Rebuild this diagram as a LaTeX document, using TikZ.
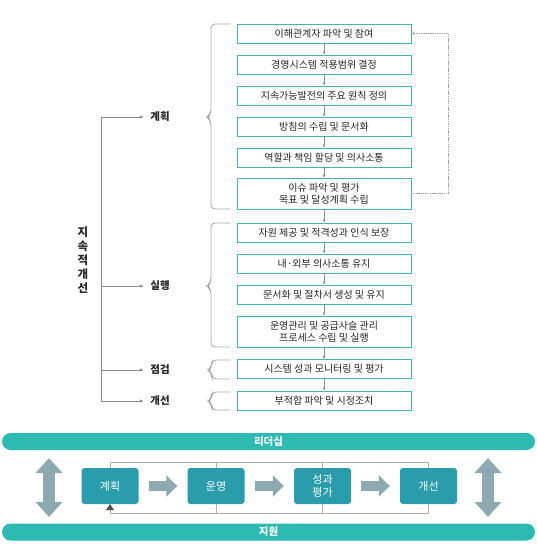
\documentclass[tikz,border=0pt]{standalone}
\usepackage{fontspec}
\setmainfont{Noto Sans CJK KR}
\usetikzlibrary{arrows.meta}
\definecolor{boxline}{HTML}{45B1B9}
\definecolor{barteal}{HTML}{2DBAB3}
\definecolor{stagefill}{HTML}{2A9CAC}
\definecolor{blockgray}{HTML}{8EAAB1}
\definecolor{linegray}{HTML}{8C8C8C}
\tikzset{
  stepbox/.style={draw=boxline, line width=0.9pt, fill=white, minimum width=174pt,
    minimum height=19pt, align=center, inner sep=1pt, text=black!85,
    font=\fontsize{10}{11.5}\selectfont},
  stepflow/.style={draw=linegray, line width=0.5pt, -{Latex[length=3pt,width=3pt]}},
  phase/.style={text=black!85, font=\bfseries\fontsize{10.5}{12}\selectfont},
  treeline/.style={draw=linegray, line width=0.7pt},
  bracket/.style={draw=linegray!80, line width=0.8pt, rounded corners=4pt},
  bar/.style={fill=barteal, rounded corners=8.5pt, minimum width=533pt, minimum height=17pt,
    text=white, font=\bfseries\fontsize{10.5}{11}\selectfont},
  stage/.style={fill=stagefill, rounded corners=3pt, minimum width=57pt, minimum height=36pt,
    text=white, align=center, font=\fontsize{11}{13}\selectfont},
  blockarrow/.style={draw=blockgray, line width=10pt, -{Triangle[length=11pt,width=21pt]}},
  updown/.style={draw=blockgray, line width=12pt, {Triangle[length=15pt,width=26pt]}-{Triangle[length=15pt,width=26pt]}},
  loopline/.style={draw=linegray!70, line width=0.6pt}
}
\begin{document}
\begin{tikzpicture}[x=1pt,y=-1pt]
\useasboundingbox (0,0) rectangle (537,547);

\node[stepbox] (b1) at (324,33.5) {이해관계자 파악 및 참여};
\node[stepbox] (b2) at (324,64.5) {경영시스템 적용범위 결정};
\node[stepbox] (b3) at (324,95.5) {지속가능발전의 주요 원칙 정의};
\node[stepbox] (b4) at (324,126.5) {방침의 수립 및 문서화};
\node[stepbox] (b5) at (324,157.5) {역할과 책임 할당 및 의사소통};
\node[stepbox, minimum height=31pt] (b6) at (324,193.5) {이슈 파악 및 평가\\목표 및 달성계획 수립};
\node[stepbox] (b7) at (324,232.5) {자원 제공 및 적격성과 인식 보장};
\node[stepbox] (b8) at (324,263.5) {내·외부 의사소통 유지};
\node[stepbox] (b9) at (324,294.5) {문서화 및 절차서 생성 및 유지};
\node[stepbox, minimum height=31pt] (b10) at (324,331.5) {운영관리 및 공급사슬 관리\\프로세스 수립 및 실행};
\node[stepbox] (b11) at (324,369) {시스템 성과 모니터링 및 평가};
\node[stepbox] (b12) at (324,400.5) {부적합 파악 및 시정조치};

\foreach \a/\b in {b1/b2,b2/b3,b3/b4,b4/b5,b5/b6,b6/b7,b7/b8,b8/b9,b9/b10,b10/b11,b11/b12}
  \draw[stepflow] (\a.south) -- (\b.north);

\draw[draw=linegray!80, line width=0.6pt, dash pattern=on 1.5pt off 0.8pt,
  -{Latex[length=3pt,width=3pt]}] (b6.east) -- ++(37,0) |- (b1.east);

% brackets
\draw[bracket] (230,24) -| (211,113) -- (207,117) -- (211,121) |- (230,209);
\draw[bracket] (230,223) -| (211,282) -- (207,286) -- (211,290) |- (230,347);
\draw[bracket] (230,360) -| (212,366) -- (208,370) -- (212,374) |- (230,379);
\draw[bracket] (230,392) -| (212,397) -- (208,401) -- (212,405) |- (230,410);

\node[phase] (plan) at (160,117) {계획};
\node[phase] (do) at (160,286) {실행};
\node[phase] (check) at (160,370) {점검};
\node[phase] (act) at (160,401) {개선};
\node[phase, align=center, font=\bfseries\fontsize{11.5}{14}\selectfont] (cont) at (83,260) {지\\속\\적\\개\\선};

\coordinate (t1) at (101,117);
\coordinate (t2) at (101,286);
\coordinate (t3) at (101,370);
\coordinate (t4) at (101,401);
\draw[treeline] (t1) -- (t4);
\foreach \t/\p in {t1/plan,t2/do,t3/check,t4/act}
  \draw[treeline, -{Latex[length=4pt,width=3.5pt]}, shorten >=3pt] (\t) -- (\p.west);

% cycle
\node[bar] (lead) at (268.5,441.5) {리더십};
\node[bar] (supp) at (268.5,532) {지원};

\node[stage] (s1) at (110,486) {계획};
\node[stage] (s2) at (216,486) {운영};
\node[stage] (s3) at (322.5,486) {성과\\평가};
\node[stage] (s4) at (428.5,486) {개선};

\draw[loopline] (s1.north) -- ++(0,-6) -| (s4.north);
\draw[loopline, {Triangle[length=6pt,width=8pt,color=black!70]}-] (s1.south) -- ++(0,9) -| (s4.south);
\draw[loopline] (s2.north) -- ++(0,-6);
\draw[loopline] (s2.south) -- ++(0,9);
\draw[loopline] (s3.north) -- ++(0,-6);
\draw[loopline] (s3.south) -- ++(0,9);

\draw[blockarrow] ([xshift=10pt]s1.east) -- ([xshift=-10pt]s2.west);
\draw[blockarrow] ([xshift=10pt]s2.east) -- ([xshift=-10pt]s3.west);
\draw[blockarrow] ([xshift=10pt]s3.east) -- ([xshift=-10pt]s4.west);

\coordinate (l1) at (49,458);
\coordinate (l2) at (49,517);
\coordinate (r1) at (488,458);
\coordinate (r2) at (488,517);
\draw[updown] (l1) -- (l2);
\draw[updown] (r1) -- (r2);
\end{tikzpicture}
\end{document}
